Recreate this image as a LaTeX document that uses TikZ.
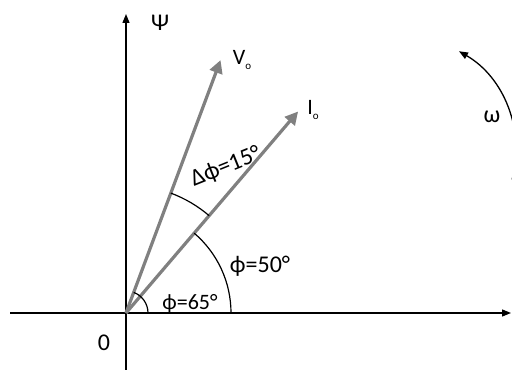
\documentclass[tikz,border=0pt]{standalone}
\usepackage{fontspec}
\setmainfont{Carlito}
\usetikzlibrary{arrows.meta,calc}
\newcommand{\subo}{\raisebox{-5pt}{\fontsize{11}{12}\selectfont o}}
\tikzset{
  axis/.style={line width=1.3pt, -{Triangle[length=9pt,width=7pt]}},
  phasor/.style={line width=3.2pt, draw={rgb,255:red,128;green,128;blue,128}, -{Triangle[length=13pt,width=13pt]}},
  anglearc/.style={line width=1.2pt},
  lbl/.style={font=\fontsize{24}{26}\selectfont, inner sep=0pt},
  smalllbl/.style={font=\fontsize{22}{24}\selectfont, inner sep=0pt}
}
\begin{document}
\begin{tikzpicture}[x=1pt,y=1pt]
\clip (0,0) rectangle (512,374);
\coordinate (O) at (126,61);
\coordinate (ybot) at (126,4);
\coordinate (ytop) at (126,360);
\coordinate (xl) at (10,61);
\coordinate (xr) at (511,61);
\coordinate (V) at ($(O)+(69.5:270)$);
\coordinate (I) at ($(O)+(49.5:265)$);
% axes
\draw[axis] (ybot) -- (ytop);
\draw[axis] (xl) -- (xr);
% phasors
\draw[phasor] (O) -- (V);
\draw[phasor] (O) -- (I);
% angle arcs
\draw[anglearc] ($(O)+(0:105)$) arc[start angle=0,end angle=49.5,radius=105];
\draw[anglearc] ($(O)+(49.5:128)$) arc[start angle=49.5,end angle=69.5,radius=128];
\draw[anglearc] ($(O)+(0:22)$) arc[start angle=0,end angle=69.5,radius=22];
% omega arrow
\coordinate (wc) at (402,224);
\draw[line width=1.3pt,-{Triangle[length=9pt,width=7pt]}] ($(wc)+(-15:114)$) arc[start angle=-15,end angle=60,radius=114];
% labels
\node[lbl] (psi) at (160,351) {Ψ};
\node[smalllbl] (vo) at (242,314) {V\subo};
\node[smalllbl] (io) at (313,264) {I\subo};
\node[lbl,rotate=22] (dphi) at (226,207) {Δϕ=15°};
\node[lbl] (phi50) at (260,108) {ϕ=50°};
\node[smalllbl] (phi65) at (190,70) {ϕ=65°};
\node[lbl] (zero) at (104,31) {0};
\node[lbl] (omega) at (492,257) {ω};
\end{tikzpicture}
\end{document}
